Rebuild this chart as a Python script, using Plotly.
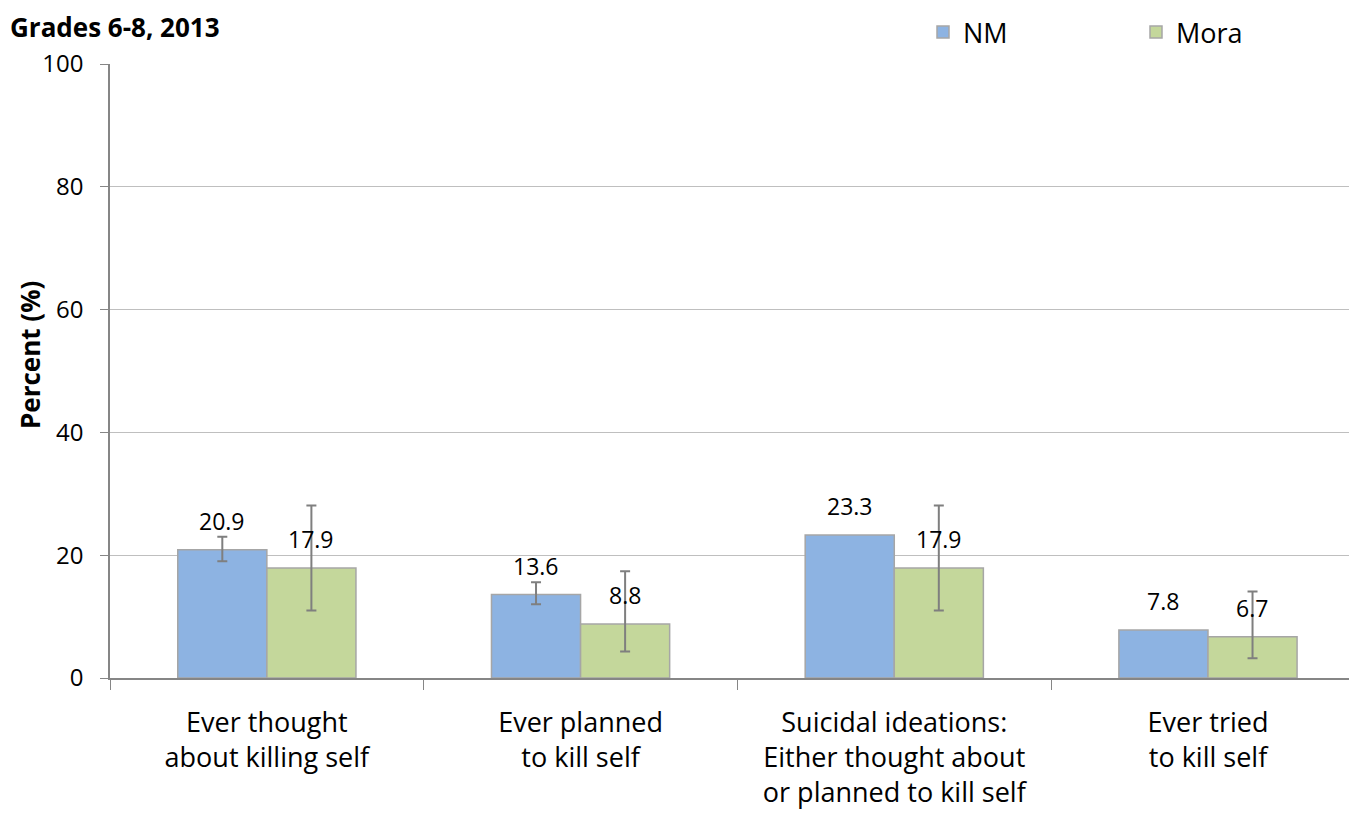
import plotly.graph_objects as go

categories = ["Ever thought<br>about killing self",
              "Ever planned<br>to kill self",
              "Suicidal ideations:<br>Either thought about<br>or planned to kill self",
              "Ever tried<br>to kill self"]
series_names = ["NM", "Mora"]
nm_values = [20.9, 13.6, 23.3, 7.8]
mora_values = [17.9, 8.8, 17.9, 6.7]
nm_upper = [23.0, 15.6, None, None]
nm_lower = [19.0, 12.0, None, None]
mora_upper = [28.1, 17.4, 28.1, 14.1]
mora_lower = [11.0, 4.3, 11.0, 3.2]
y_ticks = [0, 20, 40, 60, 80, 100]

colors = ["#8db3e2", "#c4d79b"]
FONT = "Open Sans"

OFF = 8  # default page body margin
W, H = 1357 - OFF, 816 - OFF
ML, MR, MT, MB = 110 - OFF, 0, 64 - OFF, 138
PW, PH = W - ML - MR, H - MT - MB
X0, Y0 = 110, 678  # plot-area origin in window pixels


def err(vals, up, lo):
    plus = [(u - v) if u is not None else None for v, u in zip(vals, up)]
    minus = [(v - l) if l is not None else None for v, l in zip(vals, lo)]
    # drop trailing missing entries so plotly draws no error bar there
    while plus and plus[-1] is None:
        plus.pop()
        minus.pop()
    return plus, minus


fig = go.Figure()
for name, vals, up, lo, col in [(series_names[0], nm_values, nm_upper, nm_lower, colors[0]),
                                (series_names[1], mora_values, mora_upper, mora_lower, colors[1])]:
    plus, minus = err(vals, up, lo)
    fig.add_trace(go.Bar(
        name=name, x=categories, y=vals,
        marker=dict(color=col, line=dict(color="#a6a6a6", width=1.5)),
        error_y=dict(type="data", symmetric=False, array=plus, arrayminus=minus,
                     color="#7f7f7f", thickness=2, width=5, visible=True),
    ))

# data labels
for vals, shift in [(nm_values, -44.5), (mora_values, 44.5)]:
    for c, v in zip(categories, vals):
        fig.add_annotation(x=c, y=v, xref="x", yref="y", text=f"{v:.1f}",
                           showarrow=False, xshift=shift, yshift=29,
                           font=dict(family=FONT, size=23, color="#000"))

fig.add_annotation(xref="paper", yref="paper", x=(8 - X0) / PW, y=1 + MT / PH,
                   xanchor="left", yanchor="top", showarrow=False, yshift=1,
                   text="<b>Grades 6-8, 2013</b>",
                   font=dict(family=FONT, size=26, color="#000"))

fig.add_annotation(xref="paper", yref="paper", x=(30 - X0) / PW, y=(Y0 - 355) / PH,
                   xanchor="center", yanchor="middle", showarrow=False, textangle=-90,
                   text="<b>Percent (%)</b>",
                   font=dict(family=FONT, size=26, color="#000"))

fig.update_layout(
    width=W, height=H,
    margin=dict(l=ML, r=MR, t=MT, b=MB),
    paper_bgcolor="white", plot_bgcolor="white",
    barmode="group", bargap=0.432, bargroupgap=0,
    font=dict(family=FONT, color="#000"),
    showlegend=True,
    legend=dict(orientation="h", x=(923 - X0) / PW, xanchor="left",
                y=1 + MT / PH, yanchor="top",
                font=dict(family=FONT, size=27, color="#000"),
                entrywidth=168, entrywidthmode="pixels",
                bgcolor="rgba(0,0,0,0)"),
    xaxis=dict(range=[-0.5, 3.475], showline=True, linecolor="#868686", linewidth=1.5,
               ticks="outside", tickson="boundaries", ticklen=10, tickcolor="#868686",
               ticklabelstandoff=20, automargin=False,
               tickfont=dict(family=FONT, size=27, color="#000"), showgrid=False,
               fixedrange=True),
    yaxis=dict(range=[0, 100], tickvals=y_ticks, showline=True, linecolor="#868686",
               linewidth=1.5, ticks="outside", ticklen=8, tickcolor="#868686",
               ticklabelstandoff=12, automargin=False,
               gridcolor="#bfbfbf", gridwidth=1.2, zeroline=False,
               tickfont=dict(family=FONT, size=24, color="#000")),
)

fig.write_html("out.html")
